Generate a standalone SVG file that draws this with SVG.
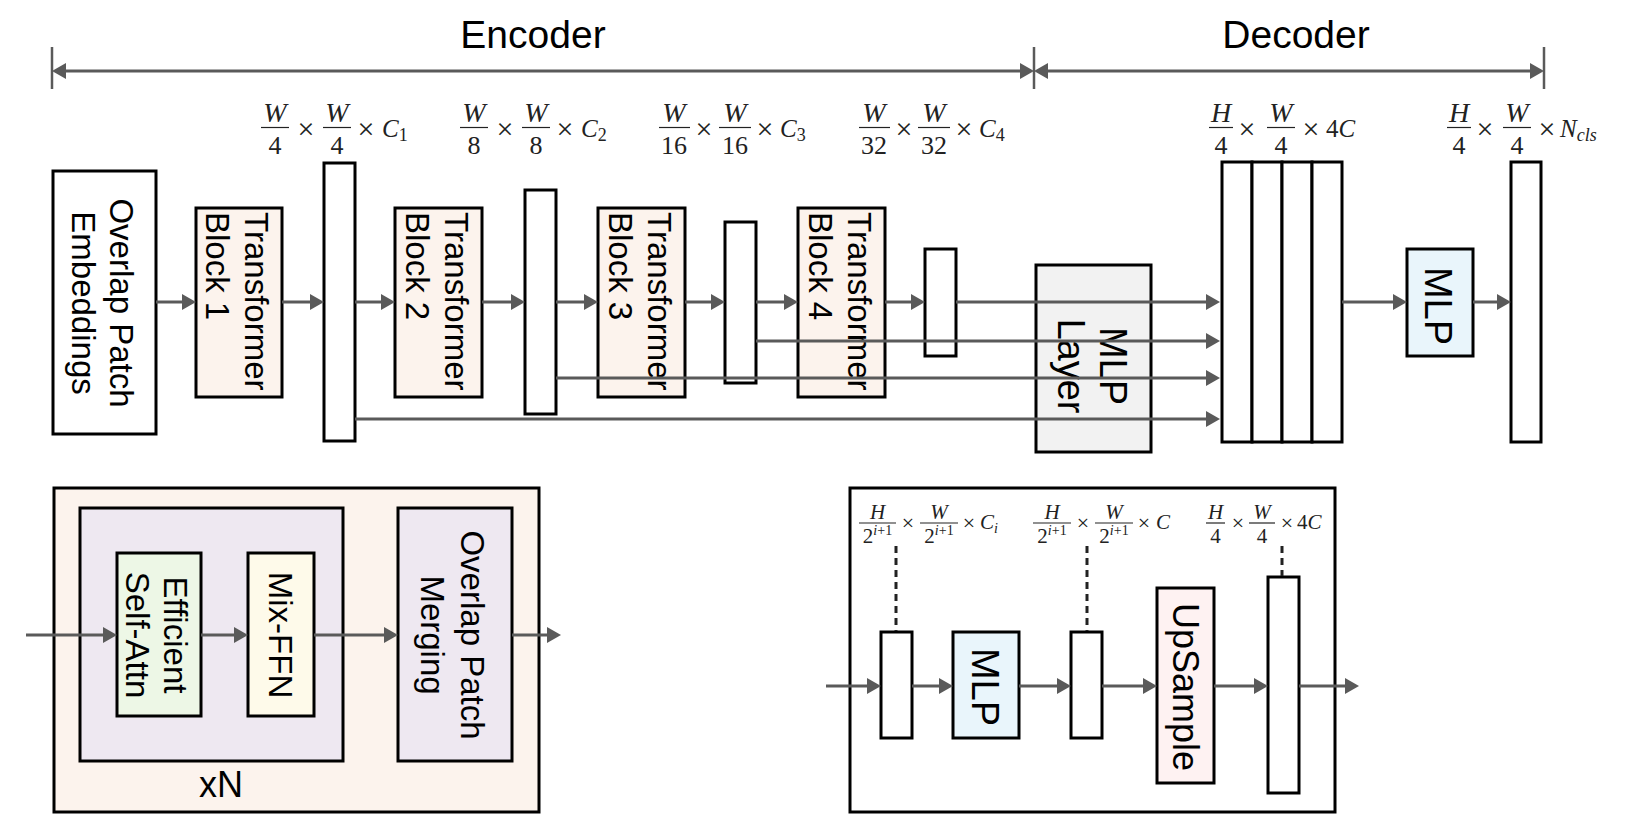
<svg xmlns="http://www.w3.org/2000/svg" width="1632" height="835" viewBox="0 0 1632 835">
<style>
.bg{fill:#fff}
.box{stroke:#000;stroke-width:3}
.w{fill:#fff}
.peach{fill:#FCF3ED}
.gray{fill:#F2F2F2}
.blue{fill:#E9F5FB}
.lav{fill:#EEE8F1}
.green{fill:#EDF7E6}
.yellow{fill:#FEFAEA}
.pink{fill:#FEF2F2}
.lbl{font-family:"Liberation Sans",Arial,sans-serif;font-size:33px;fill:#000}
.big{font-family:"Liberation Sans",Arial,sans-serif;font-size:39px;fill:#000}
.m{font-family:"Liberation Serif","Times New Roman",serif;font-size:28px;fill:#222}
.md{font-size:26px}
.mx{font-size:30px}
.mc{font-size:25px}
.ms{font-family:"Liberation Serif","Times New Roman",serif;font-size:21px;fill:#222}
.msx{font-size:22px}
.i{font-style:italic}
.c{text-anchor:middle}
.fb{stroke:#222;stroke-width:1.2}
.con{stroke:#5a5a5a;stroke-width:3;fill:none}
.arr{marker-end:url(#ah)}
.dash{stroke:#222;stroke-width:3;stroke-dasharray:7 5;fill:none}
.tick{stroke:#5a5a5a;stroke-width:2.5}
</style>
<defs>
<marker id="ah" markerUnits="userSpaceOnUse" markerWidth="14" markerHeight="16" refX="6" refY="8" orient="auto-start-reverse">
<path d="M0,0 L14,8 L0,16 z" fill="#5a5a5a"/>
</marker>
</defs>
<rect class="bg" x="0" y="0" width="1632" height="835"/>

<!-- Top header -->
<g id="header">
<text class="big c" x="533" y="48">Encoder</text>
<text class="big c" x="1296" y="48">Decoder</text>
<line class="tick" x1="52" y1="47" x2="52" y2="89"/>
<line class="tick" x1="1034" y1="47" x2="1034" y2="89"/>
<line class="tick" x1="1544" y1="47" x2="1544" y2="89"/>
<line class="con" x1="60" y1="71" x2="1026" y2="71" marker-start="url(#ah)" marker-end="url(#ah)"/>
<line class="con" x1="1042" y1="71" x2="1536" y2="71" marker-start="url(#ah)" marker-end="url(#ah)"/>
</g>

<!-- Top dimension labels -->
<g id="dim1">
<text class="m i c" x="275" y="122">W</text><line class="fb" x1="261" y1="127.5" x2="289" y2="127.5"/><text class="m md c" x="275" y="154">4</text>
<text class="m mx c" x="306" y="139">×</text>
<text class="m i c" x="337" y="122">W</text><line class="fb" x1="323" y1="127.5" x2="351" y2="127.5"/><text class="m md c" x="337" y="154">4</text>
<text class="m mx c" x="366" y="139">×</text>
<text class="m mc i" x="382" y="137">C<tspan font-size="18" font-style="normal" dy="4">1</tspan></text>
</g>
<g id="dim2">
<text class="m i c" x="474" y="122">W</text><line class="fb" x1="460" y1="127.5" x2="488" y2="127.5"/><text class="m md c" x="474" y="154">8</text>
<text class="m mx c" x="505" y="139">×</text>
<text class="m i c" x="536" y="122">W</text><line class="fb" x1="522" y1="127.5" x2="550" y2="127.5"/><text class="m md c" x="536" y="154">8</text>
<text class="m mx c" x="565" y="139">×</text>
<text class="m mc i" x="581" y="137">C<tspan font-size="18" font-style="normal" dy="4">2</tspan></text>
</g>
<g id="dim3">
<text class="m i c" x="674" y="122">W</text><line class="fb" x1="659" y1="127.5" x2="690" y2="127.5"/><text class="m md c" x="674" y="154">16</text>
<text class="m mx c" x="704" y="139">×</text>
<text class="m i c" x="735" y="122">W</text><line class="fb" x1="719" y1="127.5" x2="751" y2="127.5"/><text class="m md c" x="735" y="154">16</text>
<text class="m mx c" x="765" y="139">×</text>
<text class="m mc i" x="780" y="137">C<tspan font-size="18" font-style="normal" dy="4">3</tspan></text>
</g>
<g id="dim4">
<text class="m i c" x="874" y="122">W</text><line class="fb" x1="859" y1="127.5" x2="890" y2="127.5"/><text class="m md c" x="874" y="154">32</text>
<text class="m mx c" x="904" y="139">×</text>
<text class="m i c" x="934" y="122">W</text><line class="fb" x1="918" y1="127.5" x2="950" y2="127.5"/><text class="m md c" x="934" y="154">32</text>
<text class="m mx c" x="964" y="139">×</text>
<text class="m mc i" x="979" y="137">C<tspan font-size="18" font-style="normal" dy="4">4</tspan></text>
</g>
<g id="dim5">
<text class="m i c" x="1221" y="122">H</text><line class="fb" x1="1209" y1="127.5" x2="1233" y2="127.5"/><text class="m md c" x="1221" y="154">4</text>
<text class="m mx c" x="1247" y="139">×</text>
<text class="m i c" x="1281" y="122">W</text><line class="fb" x1="1267" y1="127.5" x2="1295" y2="127.5"/><text class="m md c" x="1281" y="154">4</text>
<text class="m mx c" x="1311" y="139">×</text>
<text class="m mc" x="1326" y="137">4<tspan font-style="italic">C</tspan></text>
</g>
<g id="dim6">
<text class="m i c" x="1459" y="122">H</text><line class="fb" x1="1447" y1="127.5" x2="1471" y2="127.5"/><text class="m md c" x="1459" y="154">4</text>
<text class="m mx c" x="1485" y="139">×</text>
<text class="m i c" x="1517" y="122">W</text><line class="fb" x1="1503" y1="127.5" x2="1531" y2="127.5"/><text class="m md c" x="1517" y="154">4</text>
<text class="m mx c" x="1547" y="139">×</text>
<text class="m mc i" x="1560" y="137">N<tspan font-size="18" dy="4">cls</tspan></text>
</g>

<!-- Top row nodes -->
<g id="overlap-patch-embeddings">
<rect class="box w" x="53" y="171" width="103" height="263"/>
<text class="lbl c" transform="translate(104.5,303) rotate(90)"><tspan x="0" y="-5">Overlap Patch</tspan><tspan x="0" y="33">Embeddings</tspan></text>
</g>
<g id="transformer-block-1">
<rect class="box peach" x="196" y="208" width="86" height="189"/>
<text class="lbl" transform="translate(239,212) rotate(90)"><tspan x="0" y="-6">Transformer</tspan><tspan x="0" y="33">Block 1</tspan></text>
</g>
<g id="feat-c1"><rect class="box w" x="324" y="163" width="31" height="278"/></g>
<g id="transformer-block-2">
<rect class="box peach" x="395" y="208" width="87" height="189"/>
<text class="lbl" transform="translate(438.5,212) rotate(90)"><tspan x="0" y="-6">Transformer</tspan><tspan x="0" y="33">Block 2</tspan></text>
</g>
<g id="feat-c2"><rect class="box w" x="525" y="190" width="31" height="224"/></g>
<g id="transformer-block-3">
<rect class="box peach" x="598" y="208" width="87" height="189"/>
<text class="lbl" transform="translate(641.5,212) rotate(90)"><tspan x="0" y="-6">Transformer</tspan><tspan x="0" y="33">Block 3</tspan></text>
</g>
<g id="feat-c3"><rect class="box w" x="725" y="222" width="31" height="161"/></g>
<g id="transformer-block-4">
<rect class="box peach" x="798" y="208" width="87" height="189"/>
<text class="lbl" transform="translate(841.5,212) rotate(90)"><tspan x="0" y="-6">Transformer</tspan><tspan x="0" y="33">Block 4</tspan></text>
</g>
<g id="feat-c4"><rect class="box w" x="925" y="249" width="31" height="107"/></g>
<g id="mlp-layer">
<rect class="box gray" x="1036" y="265" width="115" height="187"/>
<text class="lbl c" style="font-size:38px" transform="translate(1093.5,366) rotate(90)"><tspan x="0" y="-6">MLP</tspan><tspan x="0" y="36">Layer</tspan></text>
</g>
<g id="concat-features">
<rect class="box w" x="1222" y="162" width="30" height="280"/>
<rect class="box w" x="1252" y="162" width="30" height="280"/>
<rect class="box w" x="1282" y="162" width="30" height="280"/>
<rect class="box w" x="1312" y="162" width="30" height="280"/>
</g>
<g id="mlp-decoder">
<rect class="box blue" x="1407" y="249" width="66" height="107"/>
<text class="lbl c" style="font-size:38px" transform="translate(1440,306) rotate(90)"><tspan x="0" y="15">MLP</tspan></text>
</g>
<g id="output-mask"><rect class="box w" x="1511" y="162" width="30" height="280"/></g>

<!-- Bottom-left: transformer block detail -->
<g id="block-detail">
<rect class="box peach" x="54" y="488" width="485" height="324"/>
</g>
<g id="repeat-xN">
<rect class="box lav" x="80" y="508" width="263" height="253"/>
<text class="lbl c" style="font-size:36px" x="221" y="797">xN</text>
</g>
<g id="efficient-self-attn">
<rect class="box green" x="117" y="553" width="84" height="163"/>
<text class="lbl c" transform="translate(159,635) rotate(90)"><tspan x="0" y="-5">Efficient</tspan><tspan x="0" y="33">Self-Attn</tspan></text>
</g>
<g id="mix-ffn">
<rect class="box yellow" x="248" y="553" width="66" height="163"/>
<text class="lbl c" transform="translate(281,635) rotate(90)"><tspan x="0" y="12">Mix-FFN</tspan></text>
</g>
<g id="overlap-patch-merging">
<rect class="box lav" x="398" y="508" width="114" height="253"/>
<text class="lbl c" transform="translate(455,635) rotate(90)"><tspan x="0" y="-6">Overlap Patch</tspan><tspan x="0" y="34">Merging</tspan></text>
</g>

<!-- Bottom-right: decoder detail -->
<g id="decoder-detail">
<rect class="box w" x="850" y="488" width="485" height="324"/>
</g>
<g id="dlabel-a">
<text class="ms i c" x="877.5" y="518.5">H</text><line class="fb" x1="859" y1="523" x2="896" y2="523"/><text class="ms c" x="877.5" y="543">2<tspan font-size="14" dy="-8"><tspan font-style="italic">i</tspan>+1</tspan></text>
<text class="ms msx c" x="908" y="530">×</text>
<text class="ms i c" x="939" y="518.5">W</text><line class="fb" x1="920" y1="523" x2="958" y2="523"/><text class="ms c" x="939" y="543">2<tspan font-size="14" dy="-8"><tspan font-style="italic">i</tspan>+1</tspan></text>
<text class="ms msx c" x="969" y="530">×</text>
<text class="ms i" x="980" y="529">C<tspan font-size="14" dy="4">i</tspan></text>
</g>
<g id="dlabel-b">
<text class="ms i c" x="1052" y="518.5">H</text><line class="fb" x1="1033" y1="523" x2="1071" y2="523"/><text class="ms c" x="1052" y="543">2<tspan font-size="14" dy="-8"><tspan font-style="italic">i</tspan>+1</tspan></text>
<text class="ms msx c" x="1083" y="530">×</text>
<text class="ms i c" x="1114" y="518.5">W</text><line class="fb" x1="1095" y1="523" x2="1133" y2="523"/><text class="ms c" x="1114" y="543">2<tspan font-size="14" dy="-8"><tspan font-style="italic">i</tspan>+1</tspan></text>
<text class="ms msx c" x="1144" y="530">×</text>
<text class="ms i" x="1156" y="529">C</text>
</g>
<g id="dlabel-c">
<text class="ms i c" x="1215.5" y="518.5">H</text><line class="fb" x1="1206" y1="523" x2="1225" y2="523"/><text class="ms c" x="1215.5" y="543">4</text>
<text class="ms msx c" x="1238" y="530">×</text>
<text class="ms i c" x="1262" y="518.5">W</text><line class="fb" x1="1249" y1="523" x2="1275" y2="523"/><text class="ms c" x="1262" y="543">4</text>
<text class="ms msx c" x="1287" y="530">×</text>
<text class="ms" x="1297" y="529">4<tspan font-style="italic">C</tspan></text>
</g>
<g id="d-feat-in"><rect class="box w" x="881" y="632" width="31" height="106"/></g>
<g id="d-mlp">
<rect class="box blue" x="953" y="632" width="66" height="106"/>
<text class="lbl c" style="font-size:38px" transform="translate(986,687) rotate(90)"><tspan x="0" y="14">MLP</tspan></text>
</g>
<g id="d-feat-mid"><rect class="box w" x="1071" y="632" width="31" height="106"/></g>
<g id="d-upsample">
<rect class="box pink" x="1157" y="588" width="57" height="195"/>
<text class="lbl c" style="font-size:36px" transform="translate(1185.5,687) rotate(90)"><tspan x="0" y="13">UpSample</tspan></text>
</g>
<g id="d-feat-out"><rect class="box w" x="1268" y="577" width="31" height="216"/></g>

<!-- Connectors -->
<g id="connectors">
<line class="con arr" x1="156" y1="302" x2="188" y2="302"/>
<line class="con arr" x1="282" y1="302" x2="316" y2="302"/>
<line class="con arr" x1="355" y1="302" x2="387" y2="302"/>
<line class="con arr" x1="482" y1="302" x2="517" y2="302"/>
<line class="con arr" x1="556" y1="302" x2="590" y2="302"/>
<line class="con arr" x1="685" y1="302" x2="717" y2="302"/>
<line class="con arr" x1="756" y1="302" x2="790" y2="302"/>
<line class="con arr" x1="885" y1="302" x2="917" y2="302"/>
<line class="con arr" x1="956" y1="302" x2="1212" y2="302"/>
<line class="con arr" x1="756" y1="341" x2="1212" y2="341"/>
<line class="con arr" x1="556" y1="378" x2="1212" y2="378"/>
<line class="con arr" x1="355" y1="419" x2="1212" y2="419"/>
<line class="con arr" x1="1342" y1="302" x2="1399" y2="302"/>
<line class="con arr" x1="1473" y1="302" x2="1503" y2="302"/>

<line class="con arr" x1="26" y1="635" x2="109" y2="635"/>
<line class="con arr" x1="201" y1="635" x2="240" y2="635"/>
<line class="con arr" x1="314" y1="635" x2="390" y2="635"/>
<line class="con arr" x1="512" y1="635" x2="553" y2="635"/>

<line class="con arr" x1="826" y1="686" x2="873" y2="686"/>
<line class="con arr" x1="912" y1="686" x2="945" y2="686"/>
<line class="con arr" x1="1019" y1="686" x2="1063" y2="686"/>
<line class="con arr" x1="1102" y1="686" x2="1149" y2="686"/>
<line class="con arr" x1="1214" y1="686" x2="1260" y2="686"/>
<line class="con arr" x1="1299" y1="686" x2="1351" y2="686"/>

<line class="dash" x1="896" y1="546" x2="896" y2="631"/>
<line class="dash" x1="1087" y1="546" x2="1087" y2="631"/>
<line class="dash" x1="1282" y1="546" x2="1282" y2="576"/>
</g>
</svg>
